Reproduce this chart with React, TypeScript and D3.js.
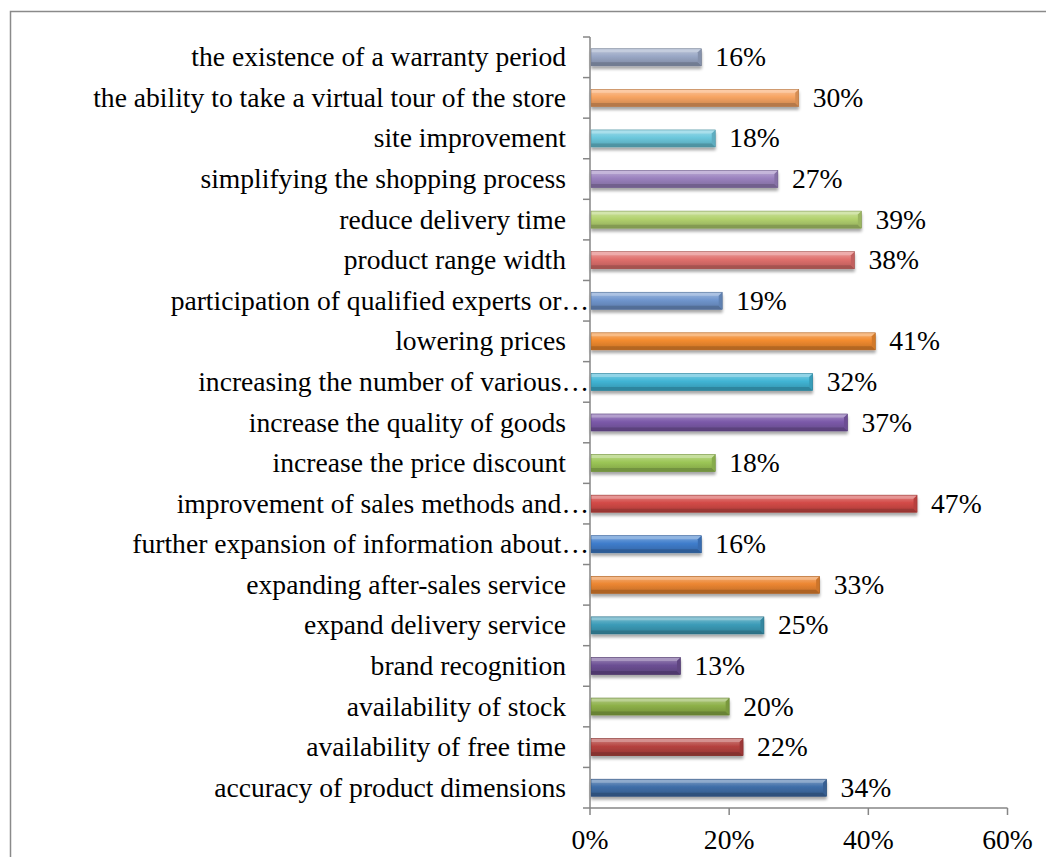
import React from "react";
import * as d3 from "d3";

const categories = [
  "accuracy of product dimensions",
  "availability of free time",
  "availability of stock",
  "brand recognition",
  "expand delivery service",
  "expanding after-sales service",
  "further expansion of information about…",
  "improvement of sales methods and…",
  "increase the price discount",
  "increase the quality of goods",
  "increasing the number of various…",
  "lowering prices",
  "participation of qualified experts or…",
  "product range width",
  "reduce delivery time",
  "simplifying the shopping process",
  "site improvement",
  "the ability to take a virtual tour of the store",
  "the existence of a warranty period",
];

const values = [34, 22, 20, 13, 25, 33, 16, 47, 18, 37, 32, 41, 19, 38, 39, 27, 18, 30, 16];

const colors = [
  "#3F6EA8", "#B5423F", "#8DB048", "#6C4F94", "#3C9CB8", "#EC8631",
  "#3F7DCC", "#D34A47", "#9CC656", "#7C5AAA", "#41B5D5", "#F28B2F",
  "#7096CE", "#E0706D", "#B3D26F", "#9B82BF", "#6CC8DD", "#F7A462",
  "#99A7C5",
];

const xTicks = [0, 20, 40, 60];

const W = 1046;
const H = 857;
const x0 = 590;
const x1 = 1007.5;
const yTop = 37;
const yBot = 808;
const FONT = "'Liberation Serif', 'Times New Roman', serif";
const FS = 27.6;

export default function App() {
  const x = d3.scaleLinear().domain([0, 60]).range([x0, x1]);
  const order = categories.map((_, i) => i).reverse();
  const y = d3
    .scaleBand<number>()
    .domain(order)
    .range([yTop, yBot])
    .paddingInner(0.58)
    .paddingOuter(0.29);
  const step = y.step();
  const bw = y.bandwidth();
  const bev = 3.5;

  return (
    <div style={{ position: "absolute", left: 0, top: 0 }}>
      <svg width={W} height={H} style={{ display: "block", background: "#fff" }}>
        <defs>
          {colors.map((c, i) => {
            const base = d3.color(c)!;
            return (
              <linearGradient key={i} id={`g${i}`} x1="0" y1="0" x2="0" y2="1">
                <stop offset="0" stopColor={d3.interpolateRgb(c, "#fff")(0.35)} />
                <stop offset="0.45" stopColor={c} />
                <stop offset="1" stopColor={base.darker(0.6).formatHex()} />
              </linearGradient>
            );
          })}
          <filter id="sh" x="-5%" y="-30%" width="110%" height="180%">
            <feGaussianBlur in="SourceAlpha" stdDeviation="1.6" />
            <feOffset dx="0" dy="2.5" result="ob" />
            <feComponentTransfer>
              <feFuncA type="linear" slope="0.35" />
            </feComponentTransfer>
            <feMerge>
              <feMergeNode />
              <feMergeNode in="SourceGraphic" />
            </feMerge>
          </filter>
        </defs>

        {/* outer frame */}
        <rect x={10.5} y={11.5} width={W + 10} height={H + 10} fill="none" stroke="#8a8a8a" strokeWidth={1.5} />

        {/* bars */}
        {values.map((v, i) => {
          const yb = y(i)!;
          const xe = x(v);
          const xs = x(0) + 1;
          const c = colors[i];
          const light = d3.interpolateRgb(c, "#fff")(0.45);
          const dark = d3.color(c)!.darker(0.9).formatHex();
          const mid = d3.color(c)!.darker(0.4).formatHex();
          return (
            <g key={i} filter="url(#sh)">
              <rect x={xs} y={yb} width={xe - xs} height={bw} fill={`url(#g${i})`} />
              <polygon
                points={`${xs},${yb} ${xe},${yb} ${xe - bev},${yb + bev} ${xs},${yb + bev}`}
                fill={light}
                opacity={0.85}
              />
              <polygon
                points={`${xs},${yb + bw} ${xe},${yb + bw} ${xe - bev},${yb + bw - bev} ${xs},${yb + bw - bev}`}
                fill={dark}
                opacity={0.9}
              />
              <polygon
                points={`${xe},${yb} ${xe},${yb + bw} ${xe - bev},${yb + bw - bev} ${xe - bev},${yb + bev}`}
                fill={mid}
              />
              <rect x={xs} y={yb} width={xe - xs} height={bw} fill="none" stroke={dark} strokeWidth={0.6} />
            </g>
          );
        })}

        {/* y axis */}
        <line x1={x0} x2={x0} y1={yTop} y2={yBot} stroke="#868686" strokeWidth={1.5} />
        {d3.range(categories.length + 1).map((k) => {
          const yy = yTop + k * step;
          return <line key={k} x1={x0 - 7} x2={x0} y1={yy} y2={yy} stroke="#868686" strokeWidth={1.5} />;
        })}

        {/* x axis */}
        <line x1={x0} x2={x1} y1={yBot} y2={yBot} stroke="#868686" strokeWidth={1.5} />
        {xTicks.map((t) => (
          <g key={t}>
            <line x1={x(t)} x2={x(t)} y1={yBot} y2={yBot + 7} stroke="#868686" strokeWidth={1.5} />
            <text x={x(t)} y={849} textAnchor="middle" fontFamily={FONT} fontSize={FS} fill="#000">
              {t}%
            </text>
          </g>
        ))}

        {/* category labels */}
        {categories.map((c, i) => (
          <text
            key={i}
            x={c.endsWith("…") ? 589 : 566}
            y={y(i)! + bw / 2 + 9}
            textAnchor="end"
            fontFamily={FONT}
            fontSize={FS}
            fill="#000"
          >
            {c}
          </text>
        ))}

        {/* value labels */}
        {values.map((v, i) => (
          <text key={i} x={x(v) + 14} y={y(i)! + bw / 2 + 9} fontFamily={FONT} fontSize={FS} fill="#000">
            {v}%
          </text>
        ))}
      </svg>
    </div>
  );
}
